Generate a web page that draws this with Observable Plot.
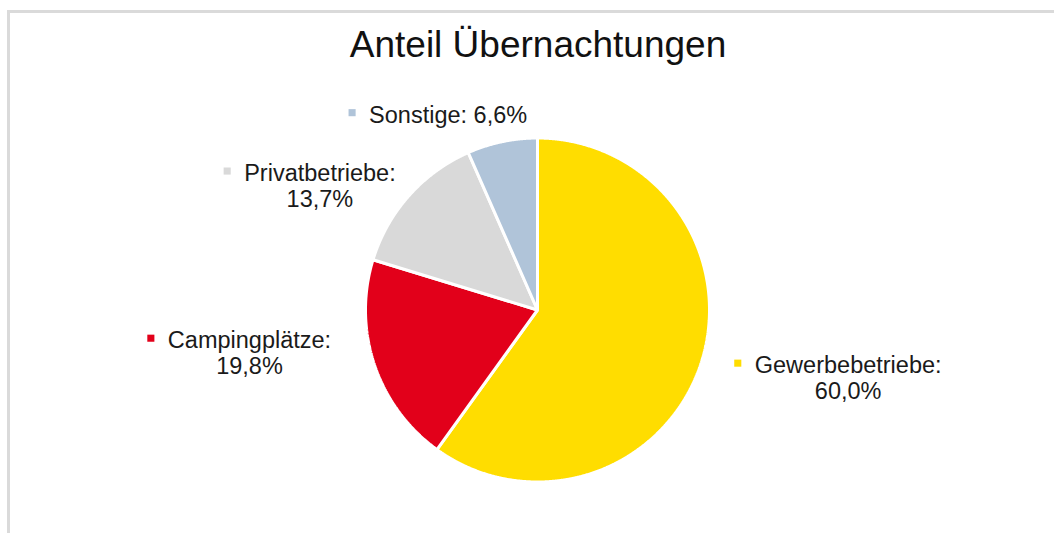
<!DOCTYPE html>
<html><head><meta charset="utf-8">
<script src="https://cdn.jsdelivr.net/npm/d3@7"></script>
<script src="https://cdn.jsdelivr.net/npm/@observablehq/plot@0.6"></script>
<style>
body{margin:0;background:#fff;font-family:"Liberation Sans",Arial,sans-serif;}
#wrap{position:relative;width:1054px;height:533px;overflow:hidden;background:#fff;}
#frame{position:absolute;left:7px;top:10px;width:1100px;height:600px;border-top:3px solid #dadada;border-left:3px solid #dadada;}
#title{position:absolute;left:338px;width:400px;top:26px;text-align:center;font-size:37px;line-height:37px;color:#111;white-space:nowrap;}
#chart{position:absolute;left:0;top:0;}
</style></head><body>
<div id="wrap"><div id="frame"></div><div id="title">Anteil Übernachtungen</div><div id="chart"></div></div>
<script>
// ---- data ----
const categories = ["Gewerbebetriebe", "Campingplätze", "Privatbetriebe", "Sonstige"];
const shares = [60.0, 19.8, 13.7, 6.6];
const shareLabels = ["60,0%", "19,8%", "13,7%", "6,6%"];
const colors = ["#FFDD00", "#E2001A", "#D9D9D9", "#B0C4D9"];

// ---- layout ----
const W = 1054, H = 533, CX = 537, CY = 309.5, R = 172;
const FONT = 23.5, LH = 1.08, FAMILY = "Liberation Sans, Arial, sans-serif";
const labelNudge = [[147, 15], [-125, -12], [-89, -10], [-54, -27]]; // px from slice edge midpoint
const labelOneLine = [false, false, false, true];

const total = d3.sum(shares);
const slices = [];
let acc = 0;
categories.forEach((name, i) => {
  const a0 = acc / total * 2 * Math.PI;
  acc += shares[i];
  const a1 = acc / total * 2 * Math.PI;
  slices.push({name, i, a0, a1, mid: (a0 + a1) / 2});
});

const pts = [];
for (const s of slices) {
  pts.push({name: s.name, x: 0, y: 0});
  const n = Math.max(2, Math.ceil((s.a1 - s.a0) / (Math.PI / 720)));
  for (let k = 0; k <= n; k++) {
    const t = s.a0 + (s.a1 - s.a0) * k / n;
    pts.push({name: s.name, x: Math.sin(t), y: Math.cos(t)});
  }
}

const canvas = document.createElement("canvas");
const ctx = canvas.getContext("2d");
ctx.font = `${FONT}px "Liberation Sans"`;

const labels = slices.map(s => {
  const [nx, ny] = labelNudge[s.i];
  const x = Math.sin(s.mid) + nx / R;
  const y = Math.cos(s.mid) - ny / R;
  const one = labelOneLine[s.i];
  const line1 = one ? `${s.name}: ${shareLabels[s.i]}` : `${s.name}:`;
  const text = one ? line1 : `${line1}\n${shareLabels[s.i]}`;
  const w1 = ctx.measureText(line1).width;
  const lines = one ? 1 : 2;
  const mdy = -(lines - 1) * FONT * LH / 2 - 2;
  return {name: s.name, x, y, text, mx: x - (w1 / 2 + 17) / R, my: y - mdy / R};
});

const chart = Plot.plot({
  width: W, height: H,
  marginTop: 0, marginRight: 0, marginBottom: 0, marginLeft: 0,
  x: {domain: [(0 - CX) / R, (W - CX) / R], axis: null},
  y: {domain: [(CY - H) / R, CY / R], axis: null},
  color: {domain: categories, range: colors},
  style: {background: "transparent", fontFamily: FAMILY},
  marks: [
    Plot.line(pts, {x: "x", y: "y", z: "name", fill: "name", stroke: "#fff", strokeWidth: 3, curve: "linear-closed", strokeLinejoin: "miter"}),
    Plot.dot(labels, {x: "mx", y: "my", fill: "name", symbol: "square", r: 4}),
    Plot.text(labels, {x: "x", y: "y", text: "text", textAnchor: "middle", lineAnchor: "middle", fontSize: FONT, lineHeight: LH, fill: "#1a1a1a"})
  ]
});
document.getElementById("chart").appendChild(chart);
</script>
</body></html>
